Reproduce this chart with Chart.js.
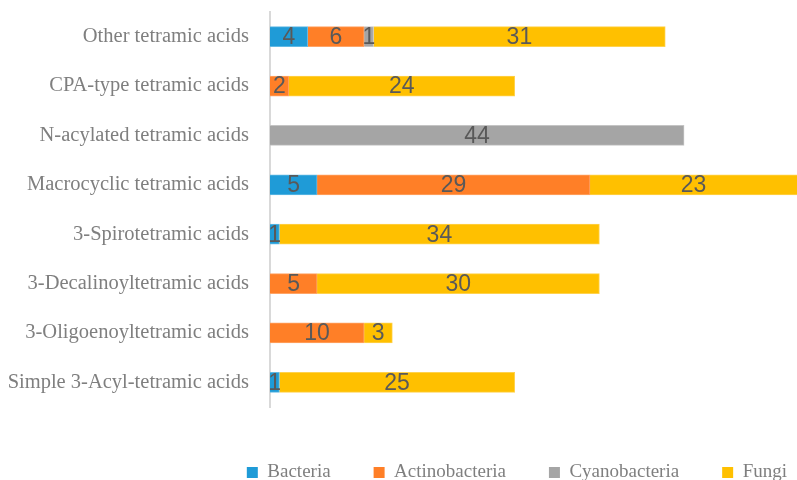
<!DOCTYPE html>
<html>
<head>
<meta charset="utf-8">
<script src="https://cdn.jsdelivr.net/npm/chart.js@4/dist/chart.umd.min.js"></script>
<style>
html,body{margin:0;padding:0;background:#fff;}
#wrap{width:797px;height:480px;position:relative;}
</style>
</head>
<body>
<div id="wrap"><canvas id="c" width="797" height="480"></canvas></div>
<script>
const categories = [
  "Other tetramic acids",
  "CPA-type tetramic acids",
  "N-acylated tetramic acids",
  "Macrocyclic tetramic acids",
  "3-Spirotetramic acids",
  "3-Decalinoyltetramic acids",
  "3-Oligoenoyltetramic acids",
  "Simple 3-Acyl-tetramic acids"
];
const seriesNames = ["Bacteria", "Actinobacteria", "Cyanobacteria", "Fungi"];
const bacteria       = [4, 0, 0, 5, 1, 0, 0, 1];
const actinobacteria = [6, 2, 0, 29, 0, 5, 10, 0];
const cyanobacteria  = [1, 0, 44, 0, 0, 0, 0, 0];
const fungi          = [31, 24, 0, 23, 34, 30, 3, 25];
const colors = ["#1F9BD7", "#FF7F27", "#A5A5A5", "#FFC000"];
const edgeColors = ["#62B9E3", "#FFA466", "#C4C4C4", "#FFD24D"];

const seriesValues = [bacteria, actinobacteria, cyanobacteria, fungi];

const labelPlugin = {
  id: 'barLabels',
  afterLayout(chart) {
    if (chart.legend) {
      chart.legend.left += 33;
      chart.legend.right += 33;
    }
  },
  afterDatasetsDraw(chart) {
    const ctx = chart.ctx;
    const area = chart.chartArea;
    ctx.save();
    ctx.font = '23px "Liberation Sans Narrow", "Liberation Sans", sans-serif';
    ctx.fillStyle = '#595959';
    ctx.textAlign = 'center';
    ctx.textBaseline = 'middle';
    chart.data.datasets.forEach((ds, i) => {
      const meta = chart.getDatasetMeta(i);
      meta.data.forEach((el, j) => {
        const v = ds.data[j];
        if (!v) return;
        const x1 = Math.min(el.base, el.x);
        const x2 = Math.min(Math.max(el.base, el.x), area.right);
        ctx.fillText(String(v), (x1 + x2) / 2, el.y + 1);
      });
    });
    ctx.restore();
  }
};

new Chart(document.getElementById('c'), {
  type: 'bar',
  data: {
    labels: categories,
    datasets: seriesNames.map((n, i) => ({
      label: n,
      data: seriesValues[i],
      backgroundColor: colors[i],
      borderColor: edgeColors[i],
      borderWidth: 1,
      barThickness: 20
    }))
  },
  options: {
    indexAxis: 'y',
    responsive: false,
    animation: false,
    layout: { padding: { top: 12, right: 0, bottom: -12, left: 0 } },
    scales: {
      x: {
        stacked: true,
        min: 0,
        max: 56,
        display: true,
        grid: { display: false, drawTicks: false },
        border: { display: false },
        ticks: { display: false },
        afterFit(scale) { scale.height = 13; }
      },
      y: {
        stacked: true,
        grid: { display: false, drawTicks: false },
        border: { display: true, color: '#D9D9D9', width: 2 },
        ticks: {
          color: '#7F7F7F',
          padding: 21,
          font: { family: '"Liberation Serif", serif', size: 20.5 }
        },
        afterFit(scale) {
          scale.width = 270;
          scale.paddingTop = 0;
          scale.paddingBottom = 0;
        }
      }
    },
    plugins: {
      tooltip: { enabled: false },
      legend: {
        position: 'bottom',
        align: 'end',
        labels: {
          boxWidth: 11,
          boxHeight: 11,
          padding: 43,
          color: '#7F7F7F',
          generateLabels(chart) {
            return chart.data.datasets.map((ds, i) => ({
              text: ds.label,
              fillStyle: colors[i],
              strokeStyle: colors[i],
              lineWidth: 0,
              fontColor: '#7F7F7F',
              hidden: false,
              datasetIndex: i
            }));
          },
          font: { family: '"Liberation Serif", serif', size: 19 }
        }
      }
    }
  },
  plugins: [labelPlugin]
});
</script>
</body>
</html>
